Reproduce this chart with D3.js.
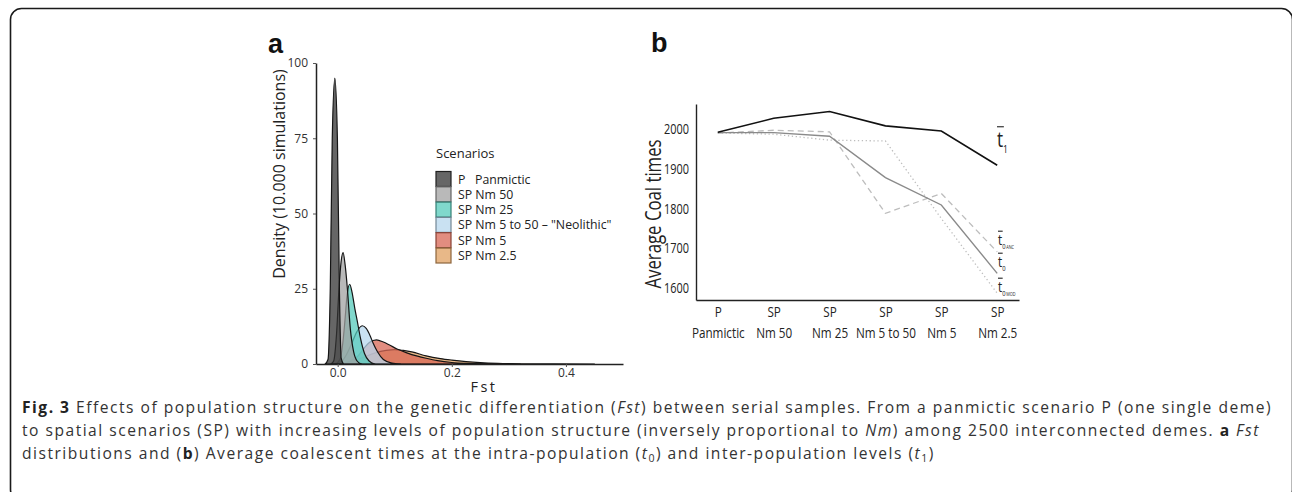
<!DOCTYPE html>
<html>
<head>
<meta charset="utf-8">
<script src="https://cdn.jsdelivr.net/npm/d3@7"></script>
<style>
  html, body { margin: 0; padding: 0; background: #fff; }
  svg { display: block; }
</style>
</head>
<body>
<svg id="chart" width="1292" height="492"></svg>
<script>
// ---------------- DATA ----------------
// Panel a: Fst density curves ([Fst, density])
const scenarioNames = ["P   Panmictic", "SP Nm 50", "SP Nm 25", "SP Nm 5 to 50 \u2013 \"Neolithic\"", "SP Nm 5", "SP Nm 2.5"];
const scenarioColors = ["#333333", "#a1a1a1", "#55cbbb", "#b7d7ed", "#d86755", "#e0a060"];
const densityP = [[-0.022,0],[-0.017,1.5],[-0.013,25],[-0.0095,75],[-0.005,95],[-0.0005,75],[0.003,25],[0.006,2],[0.010,0]];
const densityNm50 = [[-0.012,0],[-0.007,1],[-0.002,10],[0.0023,25],[0.006,34],[0.0095,37],[0.013,33],[0.017,25],[0.022,12],[0.028,4],[0.034,1],[0.042,0]];
const densityNm25 = [[-0.004,0],[0.004,1.5],[0.009,7],[0.0128,14.6],[0.016,22],[0.021,26.5],[0.025,24],[0.03,18.5],[0.034,14.6],[0.04,8.5],[0.047,3.5],[0.055,1],[0.065,0]];
const densityNeo = [[-0.005,0],[0.005,0.5],[0.015,3],[0.025,7],[0.033,10.5],[0.043,12.7],[0.05,11.8],[0.057,9.3],[0.062,7],[0.07,4],[0.08,1.5],[0.095,0.3],[0.11,0]];
const densityNm5 = [[0.0,0],[0.02,0.8],[0.035,2.5],[0.046,5.2],[0.056,7.2],[0.068,8],[0.08,7.3],[0.09,6.4],[0.104,5],[0.12,3.8],[0.14,2.6],[0.155,1.9],[0.175,1.1],[0.2,0.5],[0.23,0.2],[0.27,0.05],[0.32,0]];
const densityNm25b = [[0.005,0],[0.025,0.8],[0.045,2.2],[0.065,3.6],[0.085,4.5],[0.1,4.8],[0.115,4.5],[0.13,4.0],[0.155,2.7],[0.18,1.8],[0.2,1.3],[0.225,0.8],[0.25,0.45],[0.28,0.2],[0.32,0.07],[0.38,0.01],[0.45,0]];
const densitySeries = [densityP, densityNm50, densityNm25, densityNeo, densityNm5, densityNm25b];
const fstTicks = [0.0, 0.2, 0.4];
const densityTicks = [0, 25, 50, 75, 100];

// Panel b: average coalescent times
const categoriesLine1 = ["P", "SP", "SP", "SP", "SP", "SP"];
const categoriesLine2 = ["Panmictic", "Nm 50", "Nm 25", "Nm 5 to 50", "Nm 5", "Nm 2.5"];
const t1Values    = [1992, 2027, 2044, 2008, 1995, 1909];
const t0Values    = [1991, 1991, 1982, 1878, 1809, 1637];
const t0AncValues = [1990, 1997, 1993, 1788, 1838, 1691];
const t0ModValues = [1990, 1987, 1972, 1970, 1775, 1587];
const coalTicks = [1600, 1700, 1800, 1900, 2000];

// Caption
const captionLines = [
  [["b","Fig. 3"],["n"," Effects of population structure on the genetic differentiation ("],["i","Fst"],["n",") between serial samples. From a panmictic scenario P (one single deme)"]],
  [["n","to spatial scenarios (SP) with increasing levels of population structure (inversely proportional to "],["i","Nm"],["n",") among 2500 interconnected demes. "],["b","a"],["n"," "],["i","Fst"]],
  [["n","distributions and ("],["b","b"],["n",") Average coalescent times at the intra-population ("],["i","t"],["s","0"],["n",") and inter-population levels ("],["i","t"],["s","1"],["n",")"]]
];

// ---------------- DRAW ----------------
const svg = d3.select("#chart");
const fontA = "'Open Sans', 'Noto Sans', sans-serif";
const fontB = "'Open Sans', 'Noto Sans', sans-serif";
const condense = 0.78; // horizontal squeeze to mimic the condensed face of panel b
const fontCap = "'Open Sans', 'Noto Sans', sans-serif";

// frame
svg.append("rect").attr("x", 10.5).attr("y", 8.5).attr("width", 1282).attr("height", 492)
  .attr("rx", 11).attr("fill", "none").attr("stroke", "#1a1a1a").attr("stroke-width", 1.6);

// ---------- Panel a ----------
const gA = svg.append("g");
const xA = d3.scaleLinear().domain([-0.038, 0.5]).range([316, 623]);
const yA = d3.scaleLinear().domain([0, 100]).range([364, 63]);

gA.append("text").attr("x", 268).attr("y", 53).text("a")
  .attr("font-family", "'Liberation Sans', Arial, sans-serif").attr("font-weight", "bold").attr("font-size", 27).attr("fill", "#111");

const area = d3.area().x(d => xA(d[0])).y0(yA(0)).y1(d => yA(d[1])).curve(d3.curveMonotoneX);
// drawn from last scenario to first so the narrow peaks sit on top
d3.range(densitySeries.length).reverse().forEach(i => {
  gA.append("path").datum(densitySeries[i]).attr("d", area)
    .attr("fill", scenarioColors[i]).attr("fill-opacity", 0.75)
    .attr("stroke", "#151515").attr("stroke-width", 1.2).attr("stroke-linejoin", "round");
});

const axAy = gA.append("g").attr("transform", "translate(316,0)")
  .call(d3.axisLeft(yA).tickValues(densityTicks).tickSize(3).tickSizeOuter(0).tickPadding(5));
const axAx = gA.append("g").attr("transform", "translate(0,364)")
  .call(d3.axisBottom(xA).tickValues(fstTicks).tickFormat(d3.format(".1f")).tickSize(3).tickSizeOuter(0).tickPadding(1));
[axAy, axAx].forEach(ax => {
  ax.select(".domain").attr("stroke", "#222").attr("stroke-width", 1.5);
  ax.selectAll(".tick line").attr("stroke", "#555");
  ax.selectAll("text").attr("font-family", fontA).attr("font-size", 12).attr("fill", "#333");
});

gA.append("text").attr("transform", "translate(285,174) rotate(-90)").attr("text-anchor", "middle")
  .attr("font-family", fontA).attr("font-size", 16).attr("fill", "#222").text("Density (10.000 simulations)");
gA.append("text").attr("x", 484).attr("y", 392).attr("text-anchor", "middle").attr("letter-spacing", 2.5)
  .attr("font-family", fontA).attr("font-size", 14.5).attr("fill", "#222").text("Fst");

// legend
const lg = gA.append("g");
lg.append("text").attr("x", 436).attr("y", 158).attr("font-family", fontA).attr("font-size", 13).attr("fill", "#222").text("Scenarios");
scenarioNames.forEach((n, i) => {
  const y = 171.5 + i * 15.3;
  lg.append("rect").attr("x", 436).attr("y", y).attr("width", 15).attr("height", 15)
    .attr("fill", scenarioColors[i]).attr("fill-opacity", 0.75)
    .attr("stroke", d3.color(scenarioColors[i]).darker(1.3)).attr("stroke-width", 1.2);
  lg.append("text").attr("x", 458).attr("y", y + 12).attr("font-family", fontA).attr("font-size", 12.3)
    .attr("fill", "#222").attr("xml:space", "preserve").text(n);
});

// ---------- Panel b ----------
const gB = svg.append("g");
const xB = d3.scalePoint().domain(d3.range(categoriesLine2.length)).range([696, 1019]).padding(0.39);
const yB = d3.scaleLinear().domain([1570, 2063]).range([300, 104]);

gB.append("text").attr("x", 651).attr("y", 52).text("b")
  .attr("font-family", "'Liberation Sans', Arial, sans-serif").attr("font-weight", "bold").attr("font-size", 27).attr("fill", "#111");

const axBy = gB.append("g").attr("transform", "translate(696,0)")
  .call(d3.axisLeft(yB).tickValues(coalTicks).tickSize(0).tickPadding(7).tickFormat(d3.format("d")));
axBy.select(".domain").attr("stroke", "#222").attr("stroke-width", 1.4);
axBy.selectAll(".tick text").each(function() {
  const t = d3.select(this);
  const x = +t.attr("x");
  t.attr("x", x / condense).attr("transform", `scale(${condense},1)`);
}).attr("font-family", fontB).attr("font-size", 14).attr("fill", "#222");

const axBx = gB.append("g").attr("transform", "translate(0,300)")
  .call(d3.axisBottom(xB).tickSize(0).tickFormat(""));
axBx.select(".domain").attr("stroke", "#222").attr("stroke-width", 1.4);
axBx.selectAll(".tick").each(function(d) {
  const t = d3.select(this).append("g").attr("transform", `scale(${condense},1)`);
  t.append("text").attr("y", 17.5).attr("text-anchor", "middle").attr("font-family", fontB).attr("font-size", 15).attr("fill", "#222").text(categoriesLine1[d]);
  t.append("text").attr("y", 38).attr("text-anchor", "middle").attr("font-family", fontB).attr("font-size", 15).attr("fill", "#222").text(categoriesLine2[d]);
});

gB.append("text").attr("transform", `translate(661,214) rotate(-90) scale(${condense},1)`).attr("text-anchor", "middle")
  .attr("font-family", fontB).attr("font-size", 21.5).attr("fill", "#222").text("Average Coal times");

const lineB = d3.line().x((d, i) => xB(i)).y(d => yB(d));
const lineSpecs = [
  [t0ModValues, "#bdbdbd", 1.3, "1.3,2.6"],
  [t0AncValues, "#bdbdbd", 1.3, "6,4"],
  [t0Values, "#8a8a8a", 1.4, null],
  [t1Values, "#111", 1.6, null]
];
lineSpecs.forEach(([vals, col, w, dash]) => {
  const p = gB.append("path").datum(vals).attr("d", lineB).attr("fill", "none")
    .attr("stroke", col).attr("stroke-width", w);
  if (dash) p.attr("stroke-dasharray", dash);
});

// t-bar labels
function tLabel(x, baseline, size, sub, small) {
  const g = gB.append("g").attr("transform", `translate(${x},${baseline}) scale(${condense},1)`);
  const t = g.append("text").attr("x", 0).attr("y", 0).attr("font-family", fontB).attr("fill", "#222");
  t.append("tspan").attr("font-size", size).text("t");
  t.append("tspan").attr("font-size", size * 0.5).attr("dy", size * 0.28).text(sub);
  if (small) t.append("tspan").attr("font-size", size * 0.33).attr("dx", 1).text(small);
  g.append("line").attr("x1", 0).attr("x2", size * 0.4).attr("y1", -size * 0.92).attr("y2", -size * 0.92)
    .attr("stroke", "#222").attr("stroke-width", 1.1);
}
tLabel(997, 147, 22, "1", null);
tLabel(998, 245, 15, "0", "ANC");
tLabel(998, 267, 15, "0", null);
tLabel(998, 292, 15, "0", "MOD");

// ---------- Caption ----------
const cap = svg.append("g");
const capBaselines = [413, 436, 459];
const capSize = 15.6;
const capNodes = [];
captionLines.forEach((segs, li) => {
  const t = cap.append("text").attr("x", 22).attr("y", capBaselines[li]).attr("font-family", fontCap)
    .attr("font-size", capSize).attr("fill", "#333").attr("xml:space", "preserve");
  segs.forEach(([kind, str]) => {
    const ts = t.append("tspan").text(str);
    if (kind === "b") ts.attr("font-weight", "bold").attr("fill", "#222");
    if (kind === "i") ts.attr("font-style", "italic");
    if (kind === "s") { ts.attr("font-size", capSize * 0.68).attr("baseline-shift", "-25%"); }
  });
  capNodes.push(t);
});
// spread the letters so the first caption line spans its width in the figure
const w0 = capNodes[0].node().getComputedTextLength();
const n0 = captionLines[0].map(s => s[1]).join("").length;
const ls = Math.max(0, (1250 - w0) / n0);
capNodes.forEach(t => t.attr("letter-spacing", ls));
</script>
</body>
</html>
